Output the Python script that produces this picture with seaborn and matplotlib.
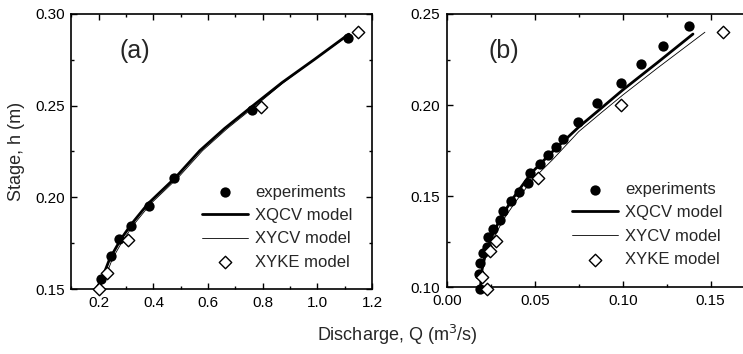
import numpy as np
import pandas as pd
import matplotlib
matplotlib.use("Agg")
import matplotlib.pyplot as plt
from matplotlib.ticker import MultipleLocator, FormatStrFormatter
import seaborn as sns

# Panel (a) data
a_exp_q = [0.208, 0.244, 0.275, 0.318, 0.382, 0.477, 0.761, 1.112]
a_exp_h = [0.1553, 0.168, 0.1771, 0.1844, 0.1953, 0.2104, 0.2477, 0.2871]
a_xqcv_q = [0.19, 0.21, 0.24, 0.28, 0.32, 0.38, 0.48, 0.57, 0.66, 0.76, 0.87, 0.99, 1.115]
a_xqcv_h = [0.150, 0.155, 0.1665, 0.177, 0.1855, 0.1965, 0.2107, 0.2255, 0.2375, 0.2495, 0.2625, 0.2753, 0.289]
a_xycv_q = [0.20, 0.22, 0.25, 0.29, 0.33, 0.39, 0.49, 0.58, 0.67, 0.77, 0.875, 0.99, 1.12]
a_xycv_h = [0.150, 0.155, 0.1665, 0.177, 0.1855, 0.1965, 0.2107, 0.2255, 0.2375, 0.2495, 0.2625, 0.2753, 0.289]
a_xyke_q = [0.199, 0.229, 0.306, 0.792, 1.150]
a_xyke_h = [0.150, 0.159, 0.177, 0.2495, 0.290]

# Panel (b) data
b_exp_q = [0.0188, 0.0184, 0.0188, 0.0207, 0.0226, 0.0235, 0.0264, 0.0302, 0.032, 0.0364,
           0.0412, 0.0459, 0.0475, 0.0527, 0.0577, 0.062, 0.0662, 0.0747, 0.0852, 0.0989,
           0.1105, 0.1230, 0.1376]
b_exp_h = [0.099, 0.1074, 0.1136, 0.1188, 0.1224, 0.1279, 0.1319, 0.137, 0.1421, 0.1476,
           0.1526, 0.1575, 0.1627, 0.1677, 0.1727, 0.1769, 0.1815, 0.191, 0.2014, 0.2123,
           0.2224, 0.2326, 0.2432]
b_xqcv_q = [0.019, 0.020, 0.022, 0.026, 0.031, 0.038, 0.048, 0.060, 0.075, 0.088, 0.100, 0.120, 0.140]
b_xqcv_h = [0.100, 0.110, 0.119, 0.129, 0.139, 0.1495, 0.1628, 0.1745, 0.188, 0.1985, 0.2083, 0.2235, 0.239]
b_xycv_q = [0.019, 0.020, 0.0225, 0.027, 0.032, 0.039, 0.049, 0.060, 0.075, 0.088, 0.100, 0.120, 0.1468]
b_xycv_h = [0.100, 0.110, 0.119, 0.128, 0.137, 0.147, 0.1595, 0.170, 0.1855, 0.196, 0.2055, 0.2205, 0.240]
b_xyke_q = [0.0225, 0.0197, 0.0245, 0.028, 0.052, 0.099, 0.157]
b_xyke_h = [0.099, 0.1055, 0.120, 0.1255, 0.160, 0.200, 0.240]

sns.set_theme(style="ticks")
plt.rcParams['font.family'] = ['Liberation Sans', 'DejaVu Sans']
plt.rcParams['xtick.direction'] = 'in'
plt.rcParams['ytick.direction'] = 'in'

fig = plt.figure(figsize=(7.43, 3.54), dpi=100)
ax_a = fig.add_axes([0.0962, 0.1836, 0.4045, 0.7769])
ax_b = fig.add_axes([0.6016, 0.1879, 0.4493, 0.7726])


def draw_panel(ax, eq, eh, qq, qh, yq, yh, kq, kh):
    sns.scatterplot(x=eq, y=eh, ax=ax, color='black', marker='o', s=55,
                    edgecolor='black', linewidth=0, label='experiments',
                    zorder=3, clip_on=False)
    sns.lineplot(x=qq, y=qh, ax=ax, color='black', lw=2.0, sort=False,
                 estimator=None, label='XQCV model', zorder=2)
    sns.lineplot(x=yq, y=yh, ax=ax, color='black', lw=0.6, sort=False,
                 estimator=None, label='XYCV model', zorder=2)
    sns.scatterplot(x=kq, y=kh, ax=ax, marker='D', s=40, facecolor='white',
                    edgecolor='black', linewidth=1.0, label='XYKE model',
                    zorder=4, clip_on=False)


draw_panel(ax_a, a_exp_q, a_exp_h, a_xqcv_q, a_xqcv_h, a_xycv_q, a_xycv_h, a_xyke_q, a_xyke_h)
draw_panel(ax_b, b_exp_q, b_exp_h, b_xqcv_q, b_xqcv_h, b_xycv_q, b_xycv_h, b_xyke_q, b_xyke_h)

ax_a.set_xlim(0.1, 1.2)
ax_a.set_ylim(0.15, 0.30)
ax_a.xaxis.set_major_locator(MultipleLocator(0.2))
ax_a.xaxis.set_minor_locator(MultipleLocator(0.1))
ax_a.yaxis.set_major_locator(MultipleLocator(0.05))
ax_a.yaxis.set_minor_locator(MultipleLocator(0.025))
ax_a.xaxis.set_major_formatter(FormatStrFormatter('%.1f'))
ax_a.yaxis.set_major_formatter(FormatStrFormatter('%.2f'))

ax_b.set_xlim(0.0, 0.19)
ax_b.set_ylim(0.10, 0.25)
ax_b.xaxis.set_major_locator(MultipleLocator(0.05))
ax_b.xaxis.set_minor_locator(MultipleLocator(0.025))
ax_b.yaxis.set_major_locator(MultipleLocator(0.05))
ax_b.yaxis.set_minor_locator(MultipleLocator(0.025))
ax_b.xaxis.set_major_formatter(FormatStrFormatter('%.2f'))
ax_b.yaxis.set_major_formatter(FormatStrFormatter('%.2f'))

for ax, tag, tx in [(ax_a, '(a)', 0.16), (ax_b, '(b)', 0.125)]:
    ax.tick_params(which='both', direction='in', top=True, right=True,
                   labelsize=11, colors='black', width=1.0, pad=5)
    ax.tick_params(which='major', length=4)
    ax.tick_params(which='minor', length=2.5)
    for sp in ax.spines.values():
        sp.set_linewidth(1.2)
        sp.set_color('black')
    ax.set_xlabel('')
    ax.set_ylabel('')
    ax.text(tx, 0.865, tag, transform=ax.transAxes, fontsize=18, va='center')

leg_kw = dict(loc='lower right', frameon=False, fontsize=12, handlelength=2.8,
              handletextpad=0.4, labelspacing=0.5, borderpad=0, borderaxespad=0)
ax_a.legend(bbox_to_anchor=(0.935, 0.07), **leg_kw)
ax_b.legend(bbox_to_anchor=(0.825, 0.075), **leg_kw)

ax_a.set_ylabel('Stage, h (m)', fontsize=13, labelpad=7)
fig.text(0.535, 0.055, 'Discharge, Q (m$^3$/s)', ha='center', va='center', fontsize=13)

fig.savefig('out.png', dpi=100)
